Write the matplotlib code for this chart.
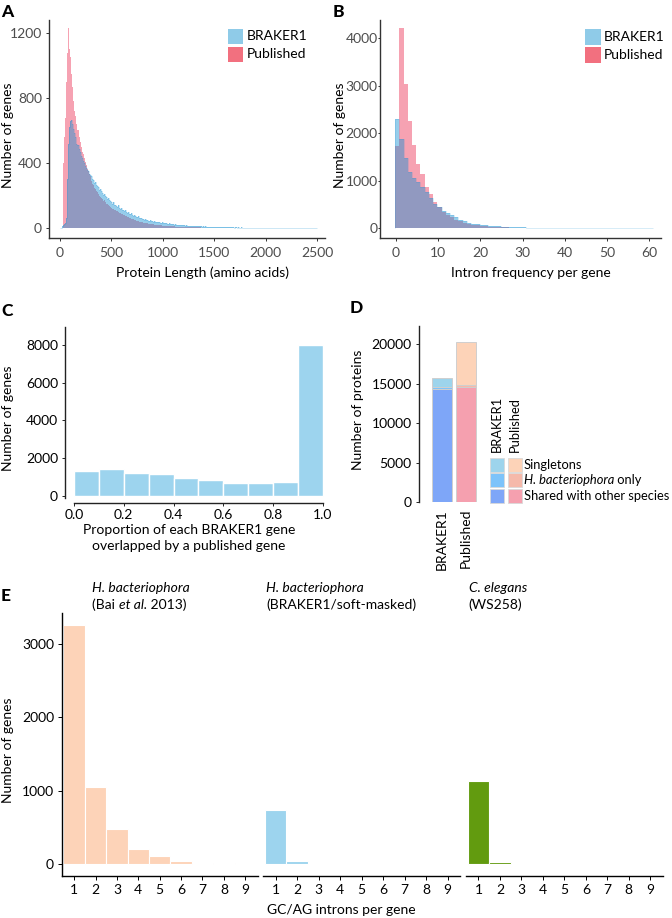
import numpy as np
import matplotlib
matplotlib.use('Agg')
import matplotlib.pyplot as plt
from matplotlib.patches import Rectangle

plt.rcParams['font.family'] = ['Lato', 'DejaVu Sans']

W, H = 672, 918
FS = 10

# ---------------- data ----------------
# Panel A: protein length histogram (bin width 10 aa, starting at 0)
len_binwidth = 10
braker_len = [0, 0, 15, 20, 25, 30, 60, 300, 520, 620,
              660, 665, 640, 610, 585, 560, 520, 510, 488, 470,
              445, 430, 410, 402, 380, 372, 355, 348, 332, 325,
              318, 300, 296, 280, 285, 262, 258, 250, 236, 240,
              225, 218, 205, 210, 196, 190, 178, 184, 170, 165,
              158, 150, 160, 140, 138, 132, 140, 122, 118, 125,
              112, 108, 104, 110, 96, 92, 99, 88, 84, 90,
              80, 76, 82, 72, 70, 66, 72, 62, 60, 64,
              56, 58, 52, 55, 48, 50, 46, 44, 48, 42,
              40, 43, 38, 40, 36, 34, 38, 33, 30, 34,
              32, 30, 28, 31, 27, 26, 28, 24, 25, 22,
              23, 21, 24, 20, 19, 21, 18, 19, 17, 18,
              16, 17, 15, 16, 14, 15, 13, 14, 15, 12,
              13, 12, 11, 13, 10, 11, 12, 10, 9, 11,
              9, 10, 8, 9, 8, 9, 7, 8, 7, 8,
              7, 6, 7, 6, 6, 7, 5, 6, 5, 6,
              5, 5, 4, 5, 4, 5, 4, 4, 5, 3,
              4, 4, 3, 4, 3, 3, 4, 3, 3, 2,
              3, 3, 2, 3, 2, 2, 3, 2, 2, 2,
              3, 2, 2, 1, 2, 2, 1, 2, 2, 1,
              2, 1, 2, 1, 1, 2, 1, 1, 2, 1,
              1, 1, 2, 1, 1, 1, 1, 2, 1, 1,
              1, 1, 1, 1, 2, 1, 1, 0, 1, 1,
              1, 0, 1, 1, 1, 0, 1, 1, 0, 1,
              1, 0, 1, 0, 1, 1, 0, 1, 0, 1]
published_len = [0, 0, 0, 400, 560, 680, 900, 1080, 1230, 1100,
                 1050, 950, 870, 780, 720, 690, 640, 605, 560, 530,
                 500, 470, 455, 430, 405, 385, 365, 350, 335, 318,
                 290, 270, 262, 248, 240, 228, 220, 208, 200, 192,
                 185, 176, 168, 170, 158, 150, 148, 140, 135, 130,
                 124, 120, 116, 110, 106, 102, 98, 95, 90, 88,
                 84, 80, 78, 75, 72, 68, 66, 62, 60, 58,
                 55, 53, 50, 48, 46, 44, 42, 40, 38, 37,
                 35, 33, 32, 30, 29, 28, 27, 25, 24, 23,
                 22, 21, 20, 20, 19, 18, 17, 17, 16, 15,
                 15, 14, 14, 13, 13, 12, 12, 11, 11, 10,
                 10, 10, 9, 9, 9, 8, 8, 8, 7, 7,
                 7, 7, 6, 6, 6, 6, 5, 5, 5, 5,
                 5, 4, 4, 4, 4, 4, 4, 3, 3, 3,
                 3, 3, 3, 3, 2, 2, 2, 2, 2, 2,
                 2, 2, 2, 2, 2, 2, 1, 1, 1, 1,
                 1, 1, 1, 1, 1, 1, 1, 1, 1, 1,
                 1, 1, 1, 1, 1, 1, 1, 1, 0, 1,
                 1, 0, 1, 0, 1, 0, 1, 0, 0, 1,
                 0, 1, 0, 0, 1, 0, 0, 1, 0, 0,
                 0, 0, 1, 0, 0, 0, 0, 1, 0, 0,
                 0, 0, 0, 0, 1, 0, 0, 0, 0, 0]

# Panel B: introns per gene (bin width 1)
braker_introns = [2300, 1880, 1470, 1190, 1050, 980, 880, 760, 640, 520,
                  450, 370, 315, 275, 230, 180, 145, 120, 100, 85,
                  72, 62, 55, 48, 42, 37, 33, 29, 25, 22,
                  19, 17, 15, 13, 12, 11, 10, 9, 8, 7,
                  6, 6, 5, 5, 4, 4, 4, 3, 3, 3,
                  3, 2, 2, 2, 2, 2, 1, 1, 1, 1, 1]
published_introns = [1730, 4220, 3030, 2250, 1750, 1360, 1150, 870, 730, 560,
                     440, 340, 280, 230, 185, 145, 115, 95, 78, 64,
                     52, 43, 36, 30, 25, 21, 18, 15, 12, 10,
                     8, 6, 5, 4, 3, 2, 2, 1, 1, 1, 1]

# Panel C: overlap proportion
overlap_bins = [0.0, 0.1, 0.2, 0.3, 0.4, 0.5, 0.6, 0.7, 0.8, 0.9]
overlap_counts = [1330, 1430, 1200, 1150, 960, 850, 710, 710, 760, 8000]

# Panel D: protein orthology categories
d_sets = ['BRAKER1', 'Published']
d_shared = [14370, 14550]
d_only = [180, 290]
d_single = [1140, 5490]

# Panel E: GC/AG introns per gene
e_introns = [1, 2, 3, 4, 5, 6, 7, 8, 9]
e_bai = [3260, 1050, 473, 209, 109, 45, 12, 18, 5]
e_braker = [737, 45, 0, 0, 0, 0, 0, 0, 0]
e_celegans = [1137, 23, 0, 0, 0, 0, 0, 0, 0]

# ---------------- colours ----------------
PINK_H = '#f6a2b2'
BLUE_H = '#1690d3'
KEY_BLUE = '#8fcbe8'
KEY_PINK = '#f2707f'
C_BLUE = '#9dd4ee'
PEACH = '#fdd3b8'
GREEN = '#629b0f'
D_COL = {'BRAKER1': ['#7ea6f8', '#7dc3fa', '#9dd4ec'],
         'Published': ['#f5a0af', '#f5b9aa', '#fdd3b8']}

fig = plt.figure(figsize=(W / 100, H / 100), dpi=100)
renderer = fig.canvas.get_renderer()


def add_ax(l, t, r, b):
    return fig.add_axes([l / W, 1 - b / H, (r - l) / W, (b - t) / H])


def ftext(x, y, s, **kw):
    kw.setdefault('fontsize', FS)
    return fig.text(x / W, 1 - y / H, s, **kw)


def rich(x, y, parts, **kw):
    """Left-aligned run of (text, fontstyle) segments."""
    for s, st in parts:
        t = ftext(x, y, s, ha='left', va='baseline', style=st, **kw)
        x += t.get_window_extent(renderer).width
    return x


def style(ax, labelcolor='black', spcolor='#222222'):
    for s in ['top', 'right']:
        ax.spines[s].set_visible(False)
    for s in ['left', 'bottom']:
        ax.spines[s].set_color(spcolor)
        ax.spines[s].set_linewidth(1.0)
    ax.tick_params(axis='both', labelsize=FS, labelcolor=labelcolor,
                   color=spcolor, length=2.5, width=0.7)


# ---------------- Panel A ----------------
axA = add_ax(49, 20, 325, 238)
style(axA, labelcolor='#4d4d4d', spcolor='#333333')
eA_p = np.arange(len(published_len) + 1) * len_binwidth
eA_b = np.arange(len(braker_len) + 1) * len_binwidth
axA.stairs(published_len, eA_p, fill=True, color=PINK_H, lw=0)
axA.stairs(braker_len, eA_b, fill=True, color=BLUE_H, alpha=0.45, lw=0)
axA.stairs(braker_len, eA_b, fill=False, color=BLUE_H, alpha=0.25, lw=0.6)
axA.set_xlim(-107, 2578)
axA.set_ylim(-61.5, 1280)
axA.set_xticks([0, 500, 1000, 1500, 2000, 2500])
axA.set_yticks([0, 400, 800, 1200])
axA.tick_params(axis='x', pad=4)
axA.tick_params(axis='y', pad=2.5)
ftext(8, 135, 'Number of genes', rotation=90, ha='center', va='center')
ftext(202, 273, 'Protein Length (amino acids)', ha='center', va='center')

# legend A
for (y0, c, lab) in [(29, KEY_BLUE, 'BRAKER1'), (47, KEY_PINK, 'Published')]:
    fig.patches.append(Rectangle((228 / W, 1 - (y0 + 15) / H), 15 / W, 15 / H,
                                 transform=fig.transFigure, facecolor=c, edgecolor='none'))
    ftext(247, y0 + 7.5, lab, ha='left', va='center')

# ---------------- Panel B ----------------
axB = add_ax(380.3, 20, 661, 238.3)
style(axB, labelcolor='#4d4d4d', spcolor='#333333')
eB_p = np.arange(len(published_introns) + 1) - 0.2
eB_b = np.arange(len(braker_introns) + 1) - 0.2
axB.stairs(published_introns, eB_p, fill=True, color=PINK_H, lw=0)
axB.stairs(braker_introns, eB_b, fill=True, color=BLUE_H, alpha=0.45, lw=0)
axB.stairs(braker_introns, eB_b, fill=False, color=BLUE_H, alpha=0.2, lw=0.6)
axB.set_xlim(-3.72, 62.8)
axB.set_ylim(-210, 4385)
axB.set_xticks([0, 10, 20, 30, 40, 50, 60])
axB.set_yticks([0, 1000, 2000, 3000, 4000])
axB.tick_params(axis='x', pad=4)
axB.tick_params(axis='y', pad=0.5, length=1.5)
ftext(340, 135, 'Number of genes', rotation=90, ha='center', va='center')
ftext(531, 273, 'Intron frequency per gene', ha='center', va='center')
for (y0, c, lab) in [(29, KEY_BLUE, 'BRAKER1'), (47, KEY_PINK, 'Published')]:
    fig.patches.append(Rectangle((585 / W, 1 - (y0 + 16) / H), 16 / W, 16 / H,
                                 transform=fig.transFigure, facecolor=c, edgecolor='none'))
    ftext(604, y0 + 8, lab, ha='left', va='center')

# ---------------- Panel C ----------------
axC = add_ax(65, 327, 325, 503)
style(axC)
axC.bar(overlap_bins, overlap_counts, width=0.1, align='edge', color=C_BLUE,
        edgecolor='white', linewidth=1.0)
axC.set_xlim(-0.036, 1.008)
axC.set_ylim(-371, 8951)
axC.spines['left'].set_bounds(-106, 8951)
axC.spines['bottom'].set_bounds(0, 1)
axC.set_xticks([0.0, 0.2, 0.4, 0.6, 0.8, 1.0])
axC.set_xticklabels(['0.0', '0.2', '0.4', '0.6', '0.8', '1.0'])
axC.set_yticks([0, 2000, 4000, 6000, 8000])
axC.tick_params(axis='x', pad=2)
axC.tick_params(axis='y', pad=2.5)
ftext(8, 418, 'Number of genes', rotation=90, ha='center', va='center')
ftext(189, 530, 'Proportion of each BRAKER1 gene', ha='center', va='center')
ftext(189, 545.5, 'overlapped by a published gene', ha='center', va='center')

# ---------------- Panel D ----------------
axD = add_ax(418.7, 326, 478, 502)
style(axD)
axD.spines['bottom'].set_visible(False)
xD = np.arange(len(d_sets))
bottoms = np.zeros(len(d_sets))
for k, vals in enumerate([d_shared, d_only, d_single]):
    cols = [D_COL[s][k] for s in d_sets]
    axD.bar(xD, vals, bottom=bottoms, width=0.83, color=cols,
            edgecolor='#cfcfcf', linewidth=0.7)
    bottoms = bottoms + np.array(vals)
axD.set_xlim(-0.96, 1.51)
axD.set_ylim(0, 22320)
axD.spines['left'].set_bounds(0, 22320)
axD.set_yticks([0, 5000, 10000, 15000, 20000])
axD.set_xticks(xD)
axD.set_xticklabels(d_sets, rotation=90, va='top', ha='center')
axD.tick_params(axis='x', length=0, pad=5)
axD.tick_params(axis='y', pad=2.5)
ftext(357.7, 410, 'Number of proteins', rotation=90, ha='center', va='center')

# legend D
LFS = 9.3
ftext(497, 452, 'BRAKER1', rotation=90, ha='center', va='bottom', fontsize=LFS)
ftext(515, 452, 'Published', rotation=90, ha='center', va='bottom', fontsize=LFS)
rows_top = [458.3, 473.3, 489.3]
leg_labels = [[('Singletons', 'normal')],
              [('H. bacteriophora', 'italic'), (' only', 'normal')],
              [('Shared with other species', 'normal')]]
leg_idx = [2, 1, 0]
for rt, parts, k in zip(rows_top, leg_labels, leg_idx):
    for cx, s in [(490, 'BRAKER1'), (507.7, 'Published')]:
        fig.patches.append(Rectangle((cx / W, 1 - (rt + 14) / H), 14 / W, 14 / H,
                                     transform=fig.transFigure, facecolor=D_COL[s][k],
                                     edgecolor='#d9d9d9', linewidth=0.6))
    rich(524, rt + 11, parts, fontsize=LFS)

# ---------------- Panel E ----------------
facets = [(61.7, 257.7, e_bai, PEACH), (263.3, 460, e_braker, C_BLUE),
          (466, 662.7, e_celegans, GREEN)]
for j, (l, r, vals, col) in enumerate(facets):
    ax = add_ax(l, 612.7, r, 875.7)
    style(ax, spcolor='black')
    ax.bar(e_introns, vals, width=1.0, color=col, edgecolor='white', linewidth=0.8)
    ax.set_xlim(0.42, 9.58)
    ax.set_ylim(-160, 3428)
    ax.set_xticks(e_introns)
    ax.tick_params(axis='x', pad=3, length=3)
    if j == 0:
        ax.set_yticks([0, 1000, 2000, 3000])
        ax.tick_params(axis='y', pad=2.5, length=3)
    else:
        ax.spines['left'].set_visible(False)
        ax.set_yticks([])

ftext(8, 750, 'Number of genes', rotation=90, ha='center', va='center')
ftext(341, 910, 'GC/AG introns per gene', ha='center', va='center')
rich(92, 592, [('H. bacteriophora', 'italic')])
rich(92, 609, [('(Bai ', 'normal'), ('et al.', 'italic'), (' 2013)', 'normal')])
rich(266, 592, [('H. bacteriophora', 'italic')])
rich(266, 609, [('(BRAKER1/soft-masked)', 'normal')])
rich(468.7, 592, [('C. elegans', 'italic')])
rich(468.7, 609, [('(WS258)', 'normal')])

# panel letters
for (x, y, s) in [(1, 12, 'A'), (333, 12, 'B'), (1, 311, 'C'), (350, 308, 'D'), (1, 596, 'E')]:
    ftext(x, y, s, ha='left', va='center', fontsize=12.5, fontweight='black')

fig.savefig('out.png', dpi=100)
